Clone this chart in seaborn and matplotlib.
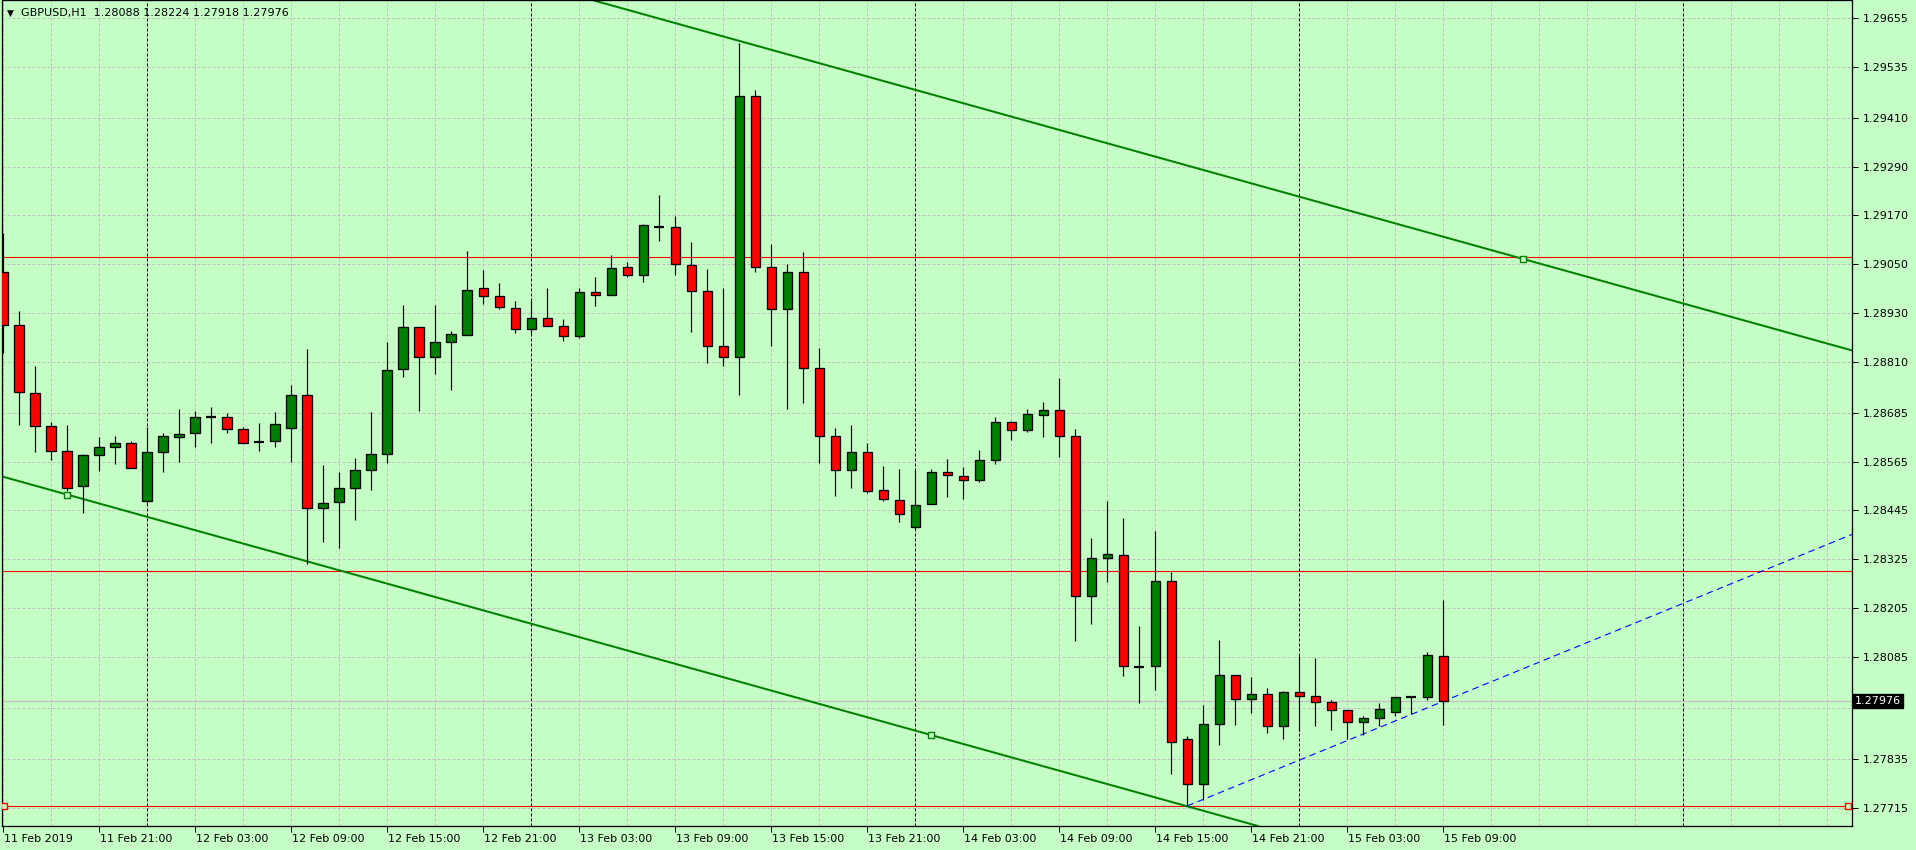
import numpy as np
import pandas as pd
import matplotlib
matplotlib.use("Agg")
import matplotlib.pyplot as plt
import matplotlib.transforms as mtransforms
import seaborn as sns

# ---------------- data ----------------
symbol = "GBPUSD,H1"
start_time = "2019-02-11 15:00"

opens = [1.29030, 1.28900, 1.28733, 1.28652, 1.28590, 1.28504, 1.28581, 1.28600, 1.28610, 1.28468,
         1.28588, 1.28625, 1.28635, 1.28675, 1.28674, 1.28645, 1.28614, 1.28615, 1.28647, 1.28728,
         1.28450, 1.28465, 1.28500, 1.28544, 1.28585, 1.28792, 1.28895, 1.28821, 1.28858, 1.28876,
         1.28991, 1.28971, 1.28942, 1.28890, 1.28917, 1.28898, 1.28873, 1.28981, 1.28974, 1.29043,
         1.29023, 1.29142, 1.29141, 1.29048, 1.28984, 1.28849, 1.28821, 1.29463, 1.29043, 1.28940,
         1.29030, 1.28794, 1.28627, 1.28544, 1.28588, 1.28495, 1.28470, 1.28404, 1.28460, 1.28539,
         1.28529, 1.28519, 1.28568, 1.28662, 1.28642, 1.28679, 1.28691, 1.28627, 1.28236, 1.28328,
         1.28335, 1.28061, 1.28062, 1.28271, 1.27883, 1.27772, 1.27920, 1.28040, 1.27981, 1.27993,
         1.27915, 1.27998, 1.27988, 1.27974, 1.27954, 1.27924, 1.27934, 1.27950, 1.27987, 1.27986,
         1.28088]
highs = [1.29126, 1.28935, 1.28800, 1.28662, 1.28655, 1.28585, 1.28626, 1.28628, 1.28616, 1.28649,
         1.28635, 1.28694, 1.28689, 1.28699, 1.28685, 1.28649, 1.28660, 1.28686, 1.28753, 1.28842,
         1.28557, 1.28540, 1.28573, 1.28686, 1.28859, 1.28950, 1.28895, 1.28950, 1.28885, 1.29083,
         1.29036, 1.29003, 1.28960, 1.28960, 1.28992, 1.28916, 1.28991, 1.29019, 1.29073, 1.29056,
         1.29149, 1.29220, 1.29169, 1.29105, 1.29038, 1.28992, 1.29593, 1.29478, 1.29100, 1.29050,
         1.29080, 1.28845, 1.28647, 1.28655, 1.28611, 1.28554, 1.28547, 1.28544, 1.28547, 1.28572,
         1.28552, 1.28594, 1.28675, 1.28664, 1.28694, 1.28711, 1.28771, 1.28645, 1.28377, 1.28468,
         1.28426, 1.28160, 1.28394, 1.28293, 1.27890, 1.27967, 1.28127, 1.28040, 1.28036, 1.28009,
         1.28001, 1.28087, 1.28083, 1.27978, 1.27954, 1.27940, 1.27971, 1.27986, 1.27987, 1.28096,
         1.28224]
lows = [1.28831, 1.28656, 1.28589, 1.28569, 1.28494, 1.28438, 1.28543, 1.28560, 1.28549, 1.28464,
        1.28540, 1.28565, 1.28602, 1.28612, 1.28636, 1.28612, 1.28592, 1.28602, 1.28565, 1.28314,
        1.28368, 1.28354, 1.28422, 1.28496, 1.28562, 1.28774, 1.28689, 1.28781, 1.28742, 1.28876,
        1.28953, 1.28939, 1.28880, 1.28879, 1.28898, 1.28862, 1.28868, 1.28948, 1.28974, 1.29020,
        1.29007, 1.29108, 1.29024, 1.28884, 1.28808, 1.28799, 1.28730, 1.29030, 1.28850, 1.28694,
        1.28710, 1.28562, 1.28481, 1.28501, 1.28489, 1.28469, 1.28417, 1.28400, 1.28460, 1.28479,
        1.28474, 1.28516, 1.28560, 1.28618, 1.28637, 1.28626, 1.28577, 1.28123, 1.28167, 1.28268,
        1.28039, 1.27973, 1.28005, 1.27798, 1.27719, 1.27733, 1.27869, 1.27919, 1.27948, 1.27899,
        1.27884, 1.27904, 1.27916, 1.27906, 1.27883, 1.27892, 1.27915, 1.27941, 1.27944, 1.27978,
        1.27918]
closes = [1.28900, 1.28735, 1.28652, 1.28590, 1.28500, 1.28581, 1.28600, 1.28610, 1.28549, 1.28588,
          1.28627, 1.28632, 1.28674, 1.28675, 1.28645, 1.28612, 1.28614, 1.28657, 1.28728, 1.28450,
          1.28463, 1.28500, 1.28544, 1.28585, 1.28790, 1.28895, 1.28821, 1.28858, 1.28878, 1.28986,
          1.28971, 1.28944, 1.28890, 1.28917, 1.28898, 1.28873, 1.28981, 1.28974, 1.29040, 1.29023,
          1.29146, 1.29142, 1.29050, 1.28984, 1.28849, 1.28821, 1.29463, 1.29043, 1.28940, 1.29030,
          1.28794, 1.28627, 1.28544, 1.28588, 1.28492, 1.28472, 1.28437, 1.28458, 1.28539, 1.28531,
          1.28519, 1.28568, 1.28662, 1.28642, 1.28681, 1.28691, 1.28627, 1.28236, 1.28328, 1.28338,
          1.28062, 1.28061, 1.28271, 1.27875, 1.27772, 1.27920, 1.28040, 1.27981, 1.27993, 1.27915,
          1.27998, 1.27988, 1.27974, 1.27954, 1.27924, 1.27934, 1.27956, 1.27986, 1.27987, 1.28089,
          1.27976]

price_ticks = [1.29655, 1.29535, 1.29410, 1.29290, 1.29170, 1.29050, 1.28930, 1.28810, 1.28685,
               1.28565, 1.28445, 1.28325, 1.28205, 1.28085, 1.27960, 1.27835, 1.27715]
price_tick_labels = ["1.29655", "1.29535", "1.29410", "1.29290", "1.29170", "1.29050", "1.28930",
                     "1.28810", "1.28685", "1.28565", "1.28445", "1.28325", "1.28205", "1.28085",
                     "", "1.27835", "1.27715"]

hlines_red = [1.29068, 1.28296, 1.27718]
upper_channel = [(46, 1.29599), (95, 1.29063)]
lower_channel = [(4, 1.28484), (58, 1.27893)]
support_ray = [(74, 1.27719), (90, 1.27976)]
last_price = 1.27976

# ---------------- style ----------------
BG = "#c6ffc6"
BULL = "#008000"
BEAR = "#ff0000"

sns.set_theme(style="white", rc={
    "axes.facecolor": BG, "figure.facecolor": BG, "axes.edgecolor": "black",
    "axes.linewidth": 1.0, "xtick.color": "black", "ytick.color": "black",
})
plt.rcParams["font.family"] = ["DejaVu Sans"]

W, H = 1916, 850
fig = plt.figure(figsize=(W / 100, H / 100), dpi=100)
ax = fig.add_axes([2 / W, 24 / H, 1850 / W, 826 / H])
ax.set_facecolor(BG)

n = len(opens)
times = pd.date_range(start_time, periods=n, freq="h")
df = pd.DataFrame({"bar": np.arange(n), "open": opens, "high": highs, "low": lows, "close": closes})

# price scale (px per price unit from the reference)
ppu = 40690.0
y0 = 1.29050 + 264.3 / ppu
y1 = 1.29050 - (826 - 264.3) / ppu
ax.set_ylim(y1, y0)
ax.set_xlim(-0.08, 115.54)

PX = 1 / 100 * 72  # one pixel in points
grid_c = "#c0c0c0"

# grid
for t in price_ticks:
    ax.axhline(t, color=grid_c, lw=PX, ls=(0, (3, 2)), zorder=0.5)
for b in range(0, 117, 3):
    ax.axvline(b, color=grid_c, lw=PX, ls=(0, (3, 2)), zorder=0.5)
# day separators
for b in range(n + 30):
    tt = pd.Timestamp(start_time) + pd.Timedelta(hours=b)
    if tt.hour == 0 and b < 116:
        ax.axvline(b, color="black", lw=PX, ls=(0, (3, 2)), zorder=0.6)

# bid line
ax.axhline(last_price, color="#c0c0c0", lw=1.3 * PX, zorder=0.7)

# red horizontal lines
for h in hlines_red:
    ax.axhline(h, color=BEAR, lw=PX * 1.1, zorder=1)

# trend lines
ax.axline(upper_channel[0], upper_channel[1], color=BULL, lw=2 * PX, zorder=1)
ax.axline(lower_channel[0], lower_channel[1], color=BULL, lw=2 * PX, zorder=1)
(sx0, sy0), (sx1, sy1) = support_ray
slope = (sy1 - sy0) / (sx1 - sx0)
xr = np.array([sx0, 116])
ax.plot(xr, sy0 + slope * (xr - sx0), color="#0000ff", lw=PX * 1.1, ls=(0, (6, 4)), zorder=1)

# candles
wick_w = PX * 1.2
ax.vlines(df["bar"], df["low"], df["high"], color="black", lw=wick_w, zorder=2)
body_lo = np.minimum(df["open"], df["close"])
body_h = np.abs(df["close"] - df["open"])
min_h = 1.2 / ppu
doji = body_h < min_h
colors = np.where(df["close"] > df["open"], BULL, BEAR)
ax.bar(df["bar"][~doji], body_h[~doji], bottom=body_lo[~doji], width=0.6,
       color=colors[~doji], edgecolor="black", linewidth=PX * 1.3, zorder=3)
ax.hlines(df["close"][doji], df["bar"][doji] - 0.32, df["bar"][doji] + 0.32,
          color="black", lw=2.2 * PX, zorder=3)

# anchor squares
anch = pd.DataFrame({
    "bar": [95, lower_channel[0][0], lower_channel[1][0]],
    "price": [upper_channel[0][1] + (upper_channel[1][1] - upper_channel[0][1]) * (95 - 46) / 49,
              lower_channel[0][1], lower_channel[1][1]],
})
sns.scatterplot(data=anch, x="bar", y="price", marker="s", s=16, facecolor=BG,
                edgecolor=BULL, linewidth=1.0, ax=ax, zorder=4)
red_anch = pd.DataFrame({"bar": [0.05, 115.3], "price": [hlines_red[2], hlines_red[2]]})
sns.scatterplot(data=red_anch, x="bar", y="price", marker="s", s=16, facecolor=BG,
                edgecolor=BEAR, linewidth=1.0, ax=ax, zorder=4)

# axes ticks
ax.yaxis.tick_right()
ax.set_yticks(price_ticks)
ax.set_yticklabels(price_tick_labels)
ax.tick_params(axis="y", direction="out", length=4, width=PX, pad=3.5, labelsize=8,
               labelcolor="black", right=True, left=False)
xt = list(range(0, n, 6))
xl = []
for b in xt:
    tt = times[b]
    xl.append(tt.strftime("%d Feb %Y") if b == 0 else tt.strftime("%d Feb %H:%M"))
ax.set_xticks(xt)
ax.set_xticklabels(xl, ha="left")
ax.tick_params(axis="x", direction="out", length=4, width=PX, pad=1.5, labelsize=8,
               labelcolor="black", bottom=True)
for lab in ax.get_xticklabels():
    lab.set_transform(lab.get_transform() + mtransforms.ScaledTranslation(1 / 100, 0, fig.dpi_scale_trans))
ax.set_xlabel("")
ax.set_ylabel("")
for s in ax.spines.values():
    s.set_linewidth(1.3 * PX)

# last price label
trans = mtransforms.blended_transform_factory(ax.transAxes, ax.transData)
ax.text(1.0 + 3 / 1850, last_price, "1.27976", transform=trans, ha="left", va="center",
        fontsize=8, color="white", zorder=6, clip_on=False,
        bbox=dict(boxstyle="square,pad=0.18", facecolor="black", edgecolor="black"))

# header
fig.text(7 / W, 1 - 13 / H, "\u25bc", fontsize=6.5, color="black", va="center", ha="left")
fig.text(21 / W, 1 - 13 / H,
         f"{symbol}  {opens[-1]:.5f} {highs[-1]:.5f} {lows[-1]:.5f} {closes[-1]:.5f}",
         fontsize=8, color="black", va="center", ha="left")

fig.savefig("out.png", dpi=100, facecolor=BG)
